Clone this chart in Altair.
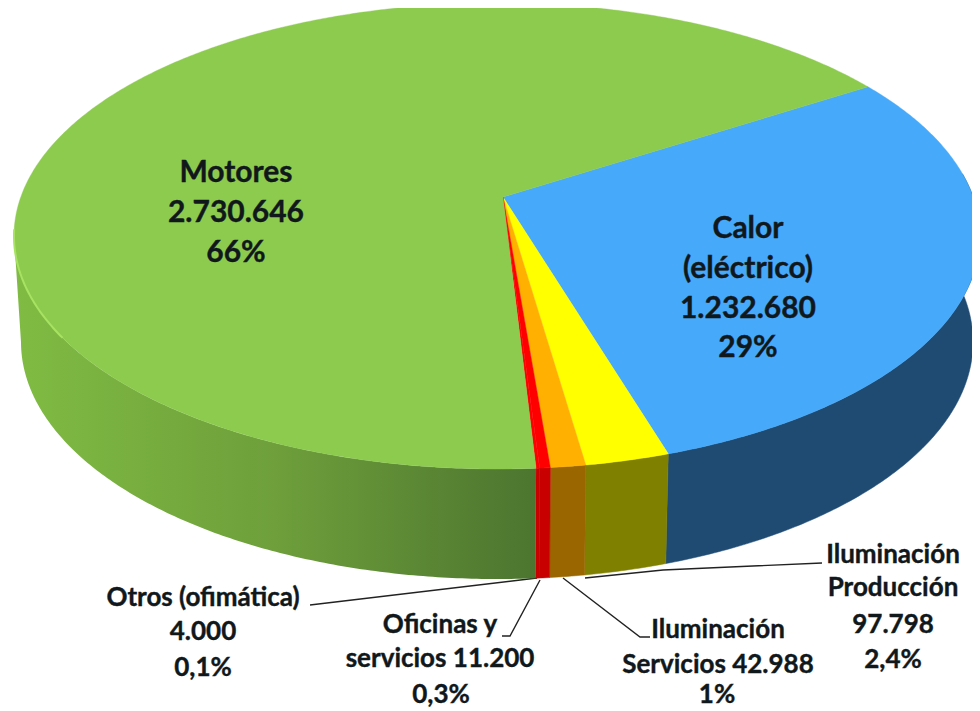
import math
import altair as alt

# Values as printed on the chart
categories = ["Calor (eléctrico)", "Iluminación Producción", "Iluminación Servicios",
              "Oficinas y servicios", "Otros (ofimática)", "Motores"]
energy = [1232680, 97798, 42988, 11200, 4000, 2730646]
percent = [29, 2.4, 1, 0.3, 0.1, 66]

top_colors = ["#46A9F9", "#FFFF00", "#FFB000", "#FF0000", "#FF0000", "#8CCB4E"]
side_colors = ["#1F4B73", "#808000", "#996600", "#C80000", "#C80000", None]
green_side_stops = [(0, "#80BC43"), (0.5, "#6E9F3B"), (1, "#4C752F")]

START_DEG = -32.0      # edge between Motores and Calor, clockwise on screen
TILT = -0.167          # perspective shift of the pie centre

TOP = dict(cx=497, cy=236, rx=483, ry=233)
BOTTOM = dict(cx=497, cy=342, rx=476, ry=237)
APEX = [503, 197]


def rim(deg, e):
    t = math.radians(deg)
    x, y = math.cos(t), math.sin(t)
    d = 1 + TILT * y
    xp = x * math.sqrt(1 - TILT ** 2) / d
    yp = (y + TILT) / d
    return [e["cx"] + e["rx"] * xp, e["cy"] + e["ry"] * yp]


def arc(a, b, e, step=0.5):
    n = max(2, int(abs(b - a) / step) + 1)
    return [rim(a + (b - a) * i / n, e) for i in range(n + 1)]


def feature(kind, coords):
    return {"type": "Feature", "properties": {}, "geometry": {"type": kind, "coordinates": coords}}


PROJ = dict(type="identity", scale=1, translate=[-8, -8])


def shape(geom, **mark):
    return alt.Chart(alt.Data(values=[geom])).mark_geoshape(**mark).project(**PROJ)


# slice edges in degrees: percentages set each sweep, Motores closes the circle
edges = [START_DEG]
for p in percent[:-1]:
    edges.append(edges[-1] + p * 3.6)
edges.append(START_DEG + 360)

# leader lines (page pixels)
leaders = [
    [[310, 605], [537, 578]],
    [[502, 636], [510, 636], [540, 580]],
    [[563, 578], [640, 637], [650, 637]],
    [[585, 578], [663, 570], [822, 563]],
]

layers = []
for line in leaders:
    layers.append(shape(feature("LineString", line), filled=False, stroke="#222222", strokeWidth=1.4))

# side walls
for i in range(5):
    a = max(edges[i], -6)
    b = edges[i + 1]
    ring = arc(a, b, TOP) + arc(b, a, BOTTOM)
    ring.append(ring[0])
    layers.append(shape(feature("Polygon", [ring]), fill=side_colors[i], stroke=side_colors[i], strokeWidth=0.5))

a, b = edges[5], 170.4
ring = arc(a, b, TOP) + arc(b, a, BOTTOM)
ring.append(ring[0])
layers.append(shape(
    feature("Polygon", [ring]),
    fill=alt.LinearGradient(
        gradient="linear", x1=0, x2=1, y1=0, y2=0,
        stops=[alt.GradientStop(offset=o, color=c) for o, c in green_side_stops],
    ),
))

# top faces
for i in range(6):
    ring = [APEX] + arc(edges[i], edges[i + 1], TOP) + [APEX]
    layers.append(shape(feature("Polygon", [ring]), fill=top_colors[i], stroke=top_colors[i], strokeWidth=0.4))

# light bevel on the front rim of the green face
layers.append(shape(feature("LineString", arc(edges[4] + 60, 172, TOP)), filled=False,
                    stroke="#A8E262", strokeWidth=2))

# labels: (centre x, centre y, text)
big = [
    (236, 173, "Motores"), (236, 213, "2.730.646"), (236, 253, "66%"),
    (748, 229, "Calor"), (748, 269, "(eléctrico)"), (748, 309, "1.232.680"), (748, 348, "29%"),
]
small = [
    (203, 598, "Otros (ofimática)"), (203, 632, "4.000"), (203, 668, "0,1%"),
    (440, 625, "Oficinas y"), (440, 659, "servicios 11.200"), (441, 695, "0,3%"),
    (718, 630, "Iluminación"), (718, 665, "Servicios 42.988"), (717, 695, "1%"),
    (893, 555, "Iluminación"), (893, 588, "Producción"), (893, 625, "97.798"), (893, 660, "2,4%"),
]


def labels(rows, size):
    vals = [{"lon": x, "lat": y, "t": t} for x, y, t in rows]
    return alt.Chart(alt.Data(values=vals)).mark_text(
        font="Lato", fontWeight="bold", fontSize=size, color="#10181C", align="center", baseline="middle",
        stroke="#10181C", strokeWidth=0.4
    ).encode(longitude="lon:Q", latitude="lat:Q", text="t:N").project(**PROJ)


layers += [labels(big, 30), labels(small, 26)]

chart = alt.layer(*layers).properties(width=964, height=703, padding=0, background="white",
                                      autosize=alt.AutoSizeParams(type="none")
                                      ).configure_view(stroke=None)
chart.save("out.html", embed_options={"renderer": "svg", "actions": False})
